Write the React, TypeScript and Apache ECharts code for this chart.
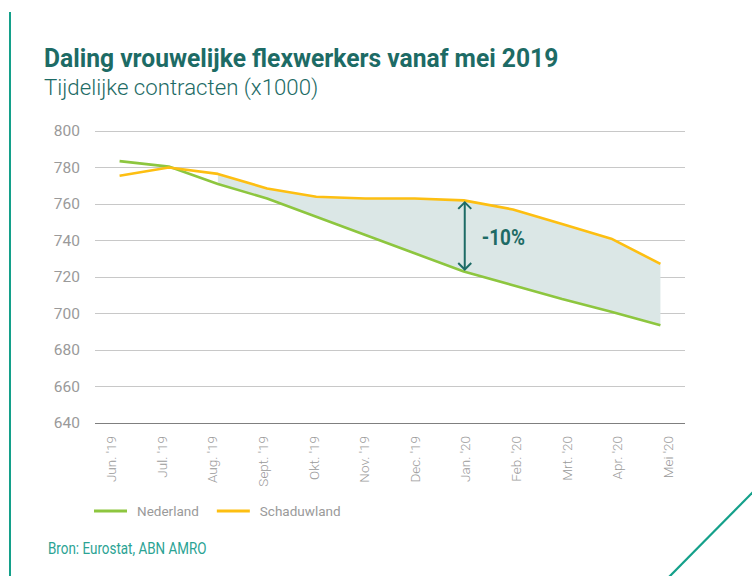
import React, { useEffect, useRef } from "react";
import * as echarts from "echarts";

const categories = ["Jun. '19", "Jul. '19", "Aug. '19", "Sept. '19", "Okt. '19", "Nov. '19", "Dec. '19", "Jan. '20", "Feb. '20", "Mrt. '20", "Apr. '20", "Mei '20"];
const nederland = [783.5, 780.5, 771, 763, 753, 743, 733, 723, 715.5, 708, 701, 693.5];
const schaduwland = [775.5, 780, 776.5, 768.5, 764, 763, 763, 762, 757, 749, 741, 727.2];
const yMin = 640;
const yMax = 800;
const yInterval = 20;
const gapIndex = 7;
const gapLabel = "-10%";
const titleText = "Daling vrouwelijke flexwerkers vanaf mei 2019";
const subtitleText = "Tijdelijke contracten (x1000)";
const sourceText = "Bron: Eurostat, ABN AMRO";

const TEAL = "#1d6b65";
const GREEN = "#8dc63f";
const ORANGE = "#fdbf12";
const GREY = "#9a9a9a";

export default function App() {
  const ref = useRef<HTMLDivElement>(null);
  useEffect(() => {
    document.body.style.margin = "0";
    const chart = echarts.init(ref.current!, null, { renderer: "svg" });
    const base = nederland.map((v, i) => (schaduwland[i] >= v && i > 0 ? v : "-"));
    const diff = nederland.map((v, i) => (schaduwland[i] >= v && i > 0 ? +(schaduwland[i] - v).toFixed(2) : "-"));
    chart.setOption({
      animation: false,
      backgroundColor: "#ffffff",
      grid: [
        { left: 95, right: 67, top: 131, bottom: 153, containLabel: false },
        { left: 85.7, right: 58.7, top: 131, bottom: 153, containLabel: false },
      ],
      legend: {
        data: ["Nederland", "Schaduwland"],
        left: 89,
        top: 499,
        icon: "rect",
        itemWidth: 33,
        itemHeight: 3,
        itemGap: 18,
        textStyle: { fontFamily: "Roboto, sans-serif", fontSize: 13.5, color: GREY, padding: [0, 0, 0, 5] },
      },
      xAxis: [
        {
          type: "category",
          gridIndex: 0,
          data: categories,
          boundaryGap: true,
          axisLine: { show: false },
          axisTick: { show: false },
          axisLabel: { show: false },
        },
        {
          type: "category",
          gridIndex: 1,
          data: categories,
          boundaryGap: true,
          axisLine: { show: false },
          axisTick: { show: false },
          splitLine: { show: false },
          axisLabel: { rotate: 90, margin: 13, fontSize: 13.5, color: GREY, fontFamily: "Roboto, sans-serif", fontWeight: 300, interval: 0 },
        },
      ],
      yAxis: [
        {
          type: "value",
          gridIndex: 0,
          min: yMin,
          max: yMax,
          interval: yInterval,
          axisLine: { show: false },
          axisTick: { show: false },
          axisLabel: { margin: 15, fontSize: 15.5, color: GREY, fontFamily: "Roboto, sans-serif" },
          splitLine: {
            lineStyle: {
              color: ["#7f7f7f", "#c8c8c8", "#c8c8c8", "#c8c8c8", "#c8c8c8", "#c8c8c8", "#c8c8c8", "#c8c8c8", "#c8c8c8"],
              width: 1.2,
            },
          },
        },
        { type: "value", gridIndex: 1, min: yMin, max: yMax, show: false, splitLine: { show: false } },
      ],
      series: [
        {
          name: "base",
          type: "line",
          stack: "band",
          data: base,
          symbol: "none",
          lineStyle: { opacity: 0 },
          silent: true,
        },
        {
          name: "band",
          type: "line",
          stack: "band",
          data: diff,
          symbol: "none",
          lineStyle: { opacity: 0 },
          areaStyle: { color: "#dbe7e6", opacity: 1 },
          silent: true,
        },
        {
          name: "Nederland",
          type: "line",
          data: nederland,
          symbol: "none",
          lineStyle: { color: GREEN, width: 2.6 },
          itemStyle: { color: GREEN },
        },
        {
          name: "Schaduwland",
          type: "line",
          data: schaduwland,
          symbol: "none",
          lineStyle: { color: ORANGE, width: 2.6 },
          itemStyle: { color: ORANGE },
        },
        {
          name: "gap",
          type: "custom",
          data: [[gapIndex, schaduwland[gapIndex], nederland[gapIndex]]],
          z: 10,
          renderItem: (params: any, api: any) => {
            const top = api.coord([api.value(0), api.value(1)]);
            const bot = api.coord([api.value(0), api.value(2)]);
            const x = top[0] + 1;
            const y1 = top[1] + 2;
            const y2 = bot[1] - 2;
            const s = 6.5;
            const style = { stroke: TEAL, lineWidth: 2, fill: "none" };
            return {
              type: "group",
              children: [
                { type: "line", shape: { x1: x, y1: y1, x2: x, y2: y2 }, style },
                { type: "polyline", shape: { points: [[x - s, y1 + s], [x, y1], [x + s, y1 + s]] }, style },
                { type: "polyline", shape: { points: [[x - s, y2 - s], [x, y2], [x + s, y2 - s]] }, style },
                {
                  type: "text",
                  x: x + 17,
                  y: (y1 + y2) / 2 + 2,
                  scaleX: 0.86,
                  style: {
                    text: gapLabel,
                    fill: TEAL,
                    font: "bold 22px Roboto, sans-serif",
                    textVerticalAlign: "middle",
                    textAlign: "left",
                  },
                },
              ],
            };
          },
        },
      ],
      graphic: [
        {
          type: "line",
          shape: { x1: 10, y1: 13, x2: 752, y2: 13 },
          style: {
            lineWidth: 2,
            stroke: new echarts.graphic.LinearGradient(0, 0, 1, 0, [
              { offset: 0, color: "#14a08a" },
              { offset: 0.88, color: "#14a08a" },
              { offset: 1, color: "#a5ddd3" },
            ]),
          },
        },
        { type: "line", shape: { x1: 10, y1: 12, x2: 10, y2: 576 }, style: { stroke: "#14a08a", lineWidth: 2 } },
        { type: "line", shape: { x1: 669, y1: 577, x2: 753, y2: 492 }, style: { stroke: "#14a08a", lineWidth: 2.2 } },
        {
          type: "text",
          x: 44,
          y: 46,
          scaleX: 0.985,
          style: { text: titleText, fill: TEAL, font: "bold 25px Roboto, sans-serif" },
        },
        {
          type: "text",
          x: 44,
          y: 76,
          scaleX: 1.01,
          style: { text: subtitleText, fill: TEAL, font: "300 22px Roboto, sans-serif" },
        },
        {
          type: "text",
          x: 48,
          y: 541,
          scaleX: 0.84,
          style: { text: sourceText, fill: "#2ba394", font: "16px Roboto, sans-serif" },
        },
      ],
    });
    return () => chart.dispose();
  }, []);
  return <div ref={ref} style={{ width: 752, height: 576 }} />;
}
